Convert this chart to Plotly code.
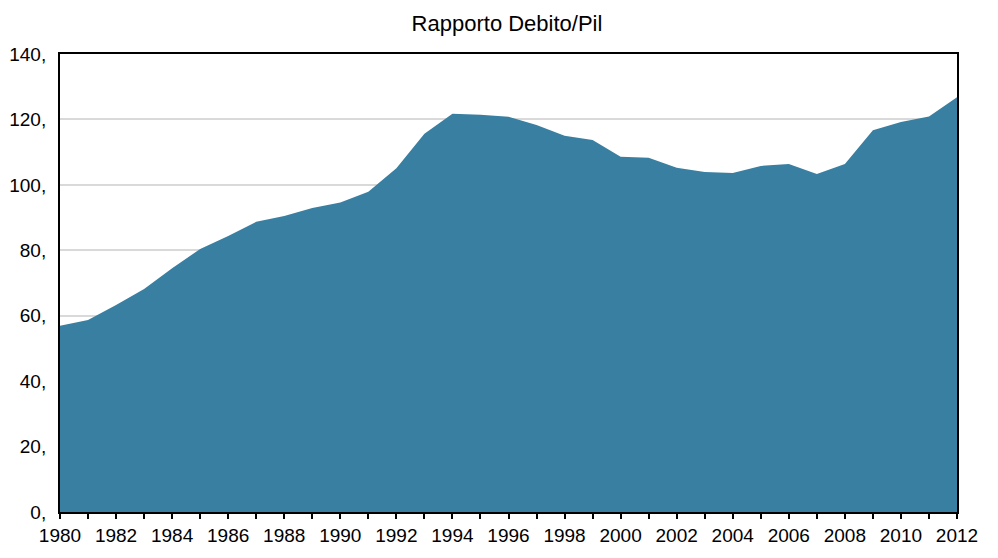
import plotly.graph_objects as go

years = list(range(1980, 2013))
debt_ratio = [56.9, 58.7, 63.3, 68.2, 74.5, 80.4, 84.4, 88.7, 90.5, 92.9, 94.6, 97.9,
              105.1, 115.6, 121.7, 121.4, 120.8, 118.3, 115.0, 113.7, 108.6, 108.3,
              105.2, 103.9, 103.6, 105.8, 106.4, 103.3, 106.4, 116.7, 119.2, 120.9, 126.8]
y_ticks = [0, 20, 40, 60, 80, 100, 120, 140]
y_tick_labels = [f"{v}," for v in y_ticks]
x_ticks = list(range(1980, 2013, 2))

fig = go.Figure()
fig.add_trace(go.Scatter(
    x=years, y=debt_ratio, mode="lines", fill="tozeroy",
    line=dict(width=0, color="#387FA1"), fillcolor="#387FA1",
    hoverinfo="x+y", showlegend=False,
))

font_family = "Liberation Sans, Arial, Helvetica, sans-serif"
fig.update_layout(
    width=998, height=558,
    margin=dict(l=52, r=49, t=46, b=54),
    paper_bgcolor="white", plot_bgcolor="white",
    font=dict(family=font_family, size=19, color="black"),
    title=dict(text="Rapporto Debito/Pil", x=0.5, xanchor="center",
               y=1 - 15 / 558, yanchor="middle", font=dict(size=22, color="black")),
    xaxis=dict(
        range=[1980, 2012], tickvals=x_ticks, ticktext=[str(v) for v in x_ticks],
        showgrid=False, zeroline=False, automargin=False,
        showline=True, linecolor="black", linewidth=2, mirror=True,
        ticks="outside", ticklen=5, tickwidth=2, tickcolor="black",
        minor=dict(dtick=1, tick0=1980, ticks="outside", ticklen=5, tickwidth=2, tickcolor="black"),
        tickfont=dict(size=19),
    ),
    yaxis=dict(
        range=[0, 140], tickvals=y_ticks, ticktext=y_tick_labels,
        showgrid=True, gridcolor="#d9d9d9", gridwidth=1.5, zeroline=False, automargin=False,
        showline=True, linecolor="black", linewidth=2, mirror=True,
        ticks="outside", ticklen=8, tickcolor="rgba(0,0,0,0)", tickfont=dict(size=19),
    ),
)

fig.write_html("out.html")
